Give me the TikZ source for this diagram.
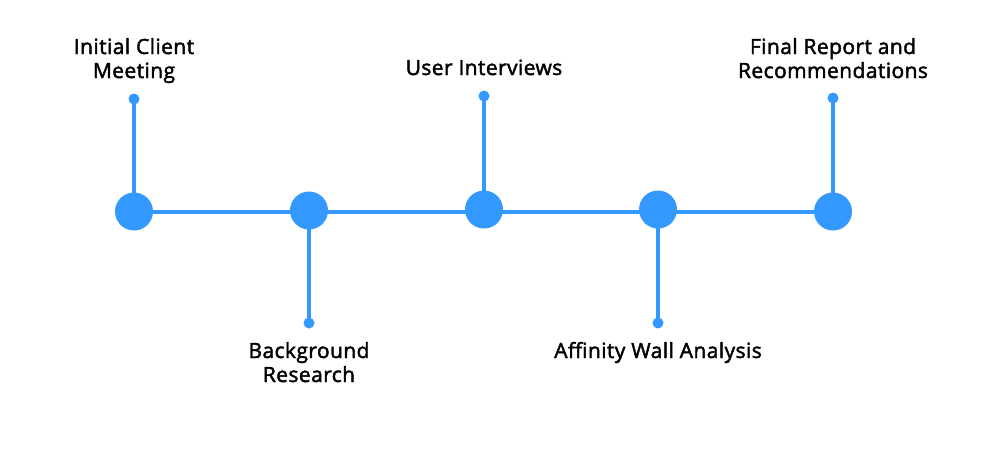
\documentclass[tikz,border=0pt]{standalone}
\usepackage{fontspec}
\setmainfont{Open Sans}
\newfontfamily\lblfont[FakeBold=2,LetterSpace=2]{Open Sans}
\definecolor{tlblue}{HTML}{3399FF}
\begin{document}
\begin{tikzpicture}[x=1pt,y=-1pt,
  bigdot/.style={circle,fill=tlblue,minimum size=38pt,inner sep=0pt},
  smalldot/.style={circle,fill=tlblue,minimum size=11pt,inner sep=0pt},
  conn/.style={draw=tlblue,line width=4pt},
  lbl/.style={align=center,anchor=base,inner sep=0pt,text=black,
    font=\lblfont\fontsize{21pt}{24pt}\selectfont}]
\useasboundingbox (0,0) rectangle (1001,451);
\coordinate (l1) at (134,211.5);
\coordinate (l5) at (833,211.5);
\path[conn] (l1) -- (l5);
\node[bigdot] (m1) at (134,211.5) {};
\node[bigdot] (m2) at (309,210.5) {};
\node[bigdot] (m3) at (484,209.5) {};
\node[bigdot] (m4) at (658,209.5) {};
\node[bigdot] (m5) at (833,211.5) {};
\node[smalldot] (s1) at (134,99) {};
\node[smalldot] (s2) at (309,323) {};
\node[smalldot] (s3) at (484,96) {};
\node[smalldot] (s4) at (658,323) {};
\node[smalldot] (s5) at (833,98) {};
\path[conn] (s1.center) -- (m1.center);
\path[conn] (s2.center) -- (m2.center);
\path[conn] (s3.center) -- (m3.center);
\path[conn] (s4.center) -- (m4.center);
\path[conn] (s5.center) -- (m5.center);
\node[lbl] (t1) at (134,78) {Initial Client\\Meeting};
\node[lbl] (t2) at (309,382) {Background\\Research};
\node[lbl] (t3) at (484,75) {User Interviews};
\node[lbl] (t4) at (658,358) {Affinity Wall Analysis};
\node[lbl] (t5) at (833,78) {Final Report and\\Recommendations};
\end{tikzpicture}
\end{document}
